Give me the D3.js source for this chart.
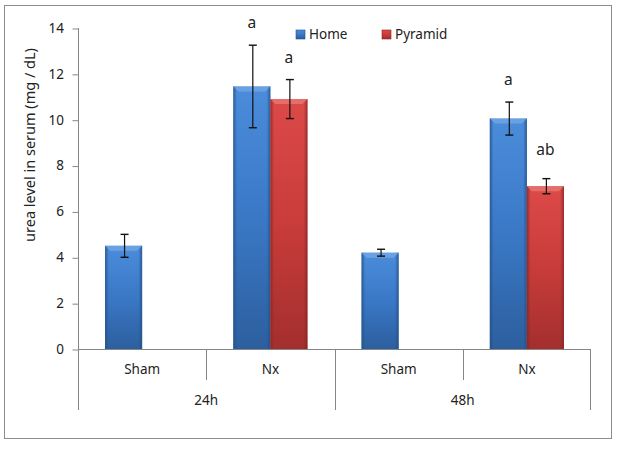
<!DOCTYPE html>
<html>
<head>
<meta charset="utf-8">
<script src="https://cdn.jsdelivr.net/npm/d3@7"></script>
<style>
  body { margin: 0; background: #fff; }
  svg { display: block; font-family: "Noto Sans", "Open Sans", sans-serif; }
</style>
</head>
<body>
<svg id="chart" width="617" height="449"></svg>
<script>
var w = 617;
var h = 449;

// data
var times = ["24h", "48h"];
var treatments = ["Sham", "Nx"];
var seriesNames = ["Home", "Pyramid"];
var homeMeans = [4.5, 11.45, 4.2, 10.05];
var homeErr = [0.5, 1.8, 0.15, 0.72];
var pyramidMeans = [null, 10.9, null, 7.1];
var pyramidErr = [null, 0.85, null, 0.33];
var homeLetters = ["", "a", "", "a"];
var pyramidLetters = ["", "a", "", "ab"];
var yTicks = [0, 2, 4, 6, 8, 10, 12, 14];

var plotLeft = 78, plotRight = 591, plotTop = 28, plotBottom = 349;
var canvas = d3.select("#chart");

// categories = time x treatment
var cats = [];
times.forEach(function (t) {
  treatments.forEach(function (g) { cats.push(t + "|" + g); });
});

var xScale = d3.scaleBand().domain(cats).range([plotLeft, plotRight]).padding(0);
var xSub = d3.scaleBand().domain(seriesNames).range([0, xScale.bandwidth()])
  .paddingInner(0).paddingOuter(0.73);
var yScale = d3.scaleLinear().domain([0, 14]).range([plotBottom, plotTop]);

// gradients (Excel-ish bevel look)
var defs = canvas.append("defs");
var palette = {
  Home: { top: "#4b8ddb", mid: "#3a78c6", bot: "#2c5f9e", edge: "#244f86", hi: "#6fa4e4" },
  Pyramid: { top: "#dc4a48", mid: "#c83c3a", bot: "#a32f2e", edge: "#862524", hi: "#e67472" }
};
seriesNames.forEach(function (s) {
  var gv = defs.append("linearGradient").attr("id", "gv" + s)
    .attr("x1", 0).attr("y1", 0).attr("x2", 0).attr("y2", 1);
  gv.append("stop").attr("offset", "0%").attr("stop-color", palette[s].top);
  gv.append("stop").attr("offset", "50%").attr("stop-color", palette[s].mid);
  gv.append("stop").attr("offset", "100%").attr("stop-color", palette[s].bot);
  var gh = defs.append("linearGradient").attr("id", "gh" + s)
    .attr("x1", 0).attr("y1", 0).attr("x2", 1).attr("y2", 0);
  gh.append("stop").attr("offset", "0%").attr("stop-color", palette[s].edge).attr("stop-opacity", 0.8);
  gh.append("stop").attr("offset", "10%").attr("stop-color", palette[s].edge).attr("stop-opacity", 0);
  gh.append("stop").attr("offset", "90%").attr("stop-color", palette[s].edge).attr("stop-opacity", 0);
  gh.append("stop").attr("offset", "100%").attr("stop-color", palette[s].edge).attr("stop-opacity", 0.8);
});

// outer frame
canvas.append("rect")
  .attr("x", 4.5).attr("y", 5.5).attr("width", 607).attr("height", 433)
  .attr("fill", "#fff").attr("stroke", "#8c8c8c").attr("stroke-width", 1);

// y axis
var yAxis = d3.axisLeft(yScale).tickValues(yTicks).tickSize(6).tickPadding(8);
var yg = canvas.append("g").attr("transform", "translate(" + plotLeft + ",0)").call(yAxis);
yg.select(".domain").remove();
yg.selectAll(".tick line").attr("stroke", "#868686").attr("x2", -6).attr("transform", "translate(0.5,0.5)");
yg.selectAll(".tick text").attr("fill", "#222").style("font-size", "13.5px").style("font-family", "Noto Sans");
canvas.append("line")
  .attr("x1", plotLeft + 0.5).attr("x2", plotLeft + 0.5)
  .attr("y1", plotTop).attr("y2", 410)
  .attr("stroke", "#868686");

canvas.append("text")
  .attr("transform", "translate(31," + 145 + ") rotate(-90)")
  .attr("text-anchor", "middle")
  .attr("dominant-baseline", "middle")
  .style("font-size", "14.5px")
  .attr("fill", "#222")
  .text("urea level in serum (mg / dL)");

// category axis (two levels)
canvas.append("line")
  .attr("x1", plotLeft).attr("x2", plotRight)
  .attr("y1", plotBottom + 0.5).attr("y2", plotBottom + 0.5)
  .attr("stroke", "#868686");

cats.forEach(function (c, i) {
  var x0 = xScale(c);
  var isGroupEdge = i % treatments.length === 0;
  canvas.append("line")
    .attr("x1", Math.round(x0) + 0.5).attr("x2", Math.round(x0) + 0.5)
    .attr("y1", plotBottom).attr("y2", isGroupEdge ? 410 : 380)
    .attr("stroke", "#868686");
  canvas.append("text")
    .attr("x", x0 + xScale.bandwidth() / 2)
    .attr("y", 370)
    .attr("text-anchor", "middle")
    .attr("dominant-baseline", "middle")
    .style("font-size", "13.5px")
    .attr("fill", "#222")
    .text(c.split("|")[1]);
});
canvas.append("line")
  .attr("x1", plotRight - 0.5).attr("x2", plotRight - 0.5)
  .attr("y1", plotBottom).attr("y2", 410)
  .attr("stroke", "#868686");

times.forEach(function (t, j) {
  var xa = xScale(t + "|" + treatments[0]);
  var xb = xScale(t + "|" + treatments[treatments.length - 1]) + xScale.bandwidth();
  canvas.append("text")
    .attr("x", (xa + xb) / 2)
    .attr("y", 401)
    .attr("text-anchor", "middle")
    .attr("dominant-baseline", "middle")
    .style("font-size", "13.5px")
    .attr("fill", "#222")
    .text(t);
});

// bars
var barData = [];
cats.forEach(function (c, i) {
  barData.push({ cat: c, s: "Home", v: homeMeans[i], e: homeErr[i], l: homeLetters[i] });
  barData.push({ cat: c, s: "Pyramid", v: pyramidMeans[i], e: pyramidErr[i], l: pyramidLetters[i] });
});
barData = barData.filter(function (d) { return d.v != null; });

var bars = canvas.selectAll("g.bar").data(barData).join("g").attr("class", "bar")
  .attr("transform", function (d) { return "translate(" + (xScale(d.cat) + xSub(d.s)) + ",0)"; });

var bw = xSub.bandwidth();
bars.append("rect")
  .attr("x", 0).attr("width", bw)
  .attr("y", function (d) { return yScale(d.v); })
  .attr("height", function (d) { return plotBottom - yScale(d.v); })
  .attr("fill", function (d) { return "url(#gv" + d.s + ")"; });
bars.append("rect")
  .attr("x", 0).attr("width", bw)
  .attr("y", function (d) { return yScale(d.v); })
  .attr("height", function (d) { return plotBottom - yScale(d.v); })
  .attr("fill", function (d) { return "url(#gh" + d.s + ")"; });
// top bevel
bars.append("path")
  .attr("d", function (d) {
    var y0 = yScale(d.v);
    return "M0," + y0 + "L" + bw + "," + y0 + "L" + (bw - 5) + "," + (y0 + 5) + "L5," + (y0 + 5) + "Z";
  })
  .attr("fill", function (d) { return palette[d.s].hi; })
  .attr("opacity", 0.85);

// error bars
bars.each(function (d) {
  var g = d3.select(this);
  var cx = Math.round(bw / 2) + 0.5;
  var y1 = yScale(d.v + d.e), y2 = yScale(d.v - d.e);
  g.append("line").attr("x1", cx).attr("x2", cx).attr("y1", y1).attr("y2", y2)
    .attr("stroke", "#111").attr("stroke-width", 1.2);
  [y1, y2].forEach(function (yy) {
    g.append("line").attr("x1", cx - 4).attr("x2", cx + 4).attr("y1", yy).attr("y2", yy)
      .attr("stroke", "#111").attr("stroke-width", 1.4);
  });
  if (d.l) {
    g.append("text")
      .attr("x", bw / 2)
      .attr("y", y1 - (d.l.length > 1 ? 24 : 17))
      .attr("text-anchor", "middle")
      .style("font-size", "15.5px")
      .attr("fill", "#222")
      .text(d.l);
  }
});

// legend
var legend = canvas.append("g").attr("transform", "translate(296,35)");
seriesNames.forEach(function (s, i) {
  var lg = legend.append("g").attr("transform", "translate(" + (i * 86) + ",0)");
  lg.append("rect").attr("x", 0).attr("y", -5).attr("width", 9).attr("height", 9)
    .attr("fill", "url(#gv" + s + ")").attr("stroke", palette[s].edge).attr("stroke-width", 0.6);
  lg.append("text").attr("x", 13).attr("y", 0)
    .attr("dominant-baseline", "middle")
    .style("font-size", "13.5px")
    .attr("fill", "#222")
    .text(s);
});
</script>
</body>
</html>
